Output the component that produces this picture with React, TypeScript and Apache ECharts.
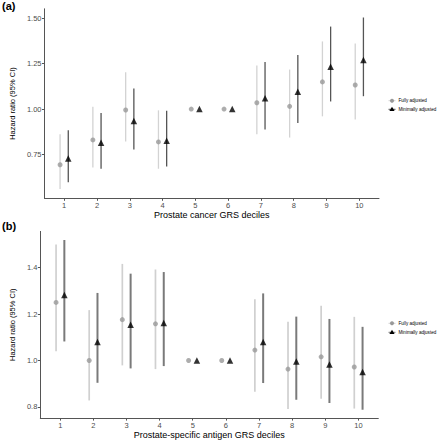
import React, { useEffect, useRef } from "react";
import * as echarts from "echarts";

const deciles = [1, 2, 3, 4, 5, 6, 7, 8, 9, 10];

// Panel (a): Prostate cancer GRS deciles
const aFullHR = [0.693, 0.830, 0.995, 0.819, 1.0, 1.0, 1.035, 1.015, 1.150, 1.133];
const aFullLo = [0.559, 0.678, 0.821, 0.671, null, null, 0.861, 0.843, 0.960, 0.943];
const aFullHi = [0.861, 1.013, 1.203, 0.993, null, null, 1.241, 1.218, 1.373, 1.362];
const aMinHR = [0.728, 0.814, 0.934, 0.826, 1.0, 1.0, 1.060, 1.095, 1.234, 1.271];
const aMinLo = [0.596, 0.671, 0.777, 0.684, null, null, 0.888, 0.923, 1.042, 1.071];
const aMinHi = [0.883, 0.978, 1.113, 0.991, null, null, 1.260, 1.298, 1.455, 1.505];
const aTicks = [0.75, 1.0, 1.25, 1.5];

// Panel (b): Prostate-specific antigen GRS deciles
const bFullHR = [1.250, 1.0, 1.176, 1.158, 1.0, 1.0, 1.045, 0.963, 1.016, 0.972];
const bFullLo = [1.040, 0.828, 0.979, 0.963, null, null, 0.865, 0.791, 0.835, 0.793];
const bFullHi = [1.500, 1.217, 1.416, 1.392, null, null, 1.264, 1.167, 1.236, 1.188];
const bMinHR = [1.282, 1.080, 1.154, 1.162, 1.0, 1.0, 1.080, 0.996, 0.983, 0.951];
const bMinLo = [1.082, 0.904, 0.966, 0.976, null, null, 0.903, 0.831, 0.817, 0.788];
const bMinHi = [1.519, 1.291, 1.374, 1.381, null, null, 1.289, 1.189, 1.179, 1.145];
const bTicks = [0.8, 1.0, 1.2, 1.4];

const seriesNames = ["Fully adjusted", "Minimally adjusted"];
const xTitles = ["Prostate cancer GRS deciles", "Prostate-specific antigen GRS deciles"];
const yTitle = "Hazard ratio (95% CI)";
const panelLabels = ["(a)", "(b)"];

const FONT = "Liberation Sans, Arial, sans-serif";
const DODGE = 0.125;

function errBar(idx: number, color: string, width: number, lo: any[], hi: any[], offset: number) {
  const data = deciles
    .map((d, i) => [d + offset, lo[i], hi[i]])
    .filter((r) => r[1] != null);
  return {
    type: "custom",
    xAxisIndex: idx,
    yAxisIndex: idx,
    data,
    renderItem: (params: any, api: any) => {
      const p1 = api.coord([api.value(0), api.value(1)]);
      const p2 = api.coord([api.value(0), api.value(2)]);
      return {
        type: "line",
        shape: { x1: p1[0], y1: p1[1], x2: p2[0], y2: p2[1] },
        style: { stroke: color, lineWidth: width },
      };
    },
    silent: true,
    z: 1,
  };
}

function points(idx: number, hr: number[], offset: number, symbol: string, size: number, color: string) {
  return {
    type: "scatter",
    xAxisIndex: idx,
    yAxisIndex: idx,
    data: deciles.map((d, i) => [d + offset, hr[i]]),
    symbol,
    symbolSize: size,
    itemStyle: { color },
    z: 3,
  };
}

function xAxis(idx: number, gap: number) {
  return {
    type: "value",
    gridIndex: idx,
    min: 0.4,
    max: 10.6,
    name: xTitles[idx],
    nameLocation: "middle",
    nameGap: gap,
    nameTextStyle: { fontFamily: FONT, fontSize: 9, color: "#000" },
    axisLine: { show: true, lineStyle: { color: "#555", width: 1 } },
    axisTick: { show: true, length: 2.5, customValues: deciles, lineStyle: { color: "#555" } },
    axisLabel: {
      customValues: deciles,
      margin: 3,
      fontFamily: FONT,
      fontSize: 7.5,
      color: "#4d4d4d",
      formatter: (v: number) => String(Math.round(v)),
    },
    splitLine: { show: false },
  };
}

function yAxis(idx: number, min: number, max: number, ticks: number[], dec: number) {
  return {
    type: "value",
    gridIndex: idx,
    min,
    max,
    name: yTitle,
    nameLocation: "middle",
    nameGap: idx === 0 ? 21 : 17,
    nameRotate: 90,
    nameTextStyle: { fontFamily: FONT, fontSize: 7.5, color: "#000" },
    axisLine: { show: true, lineStyle: { color: "#555", width: 1 } },
    axisTick: { show: true, length: 2.5, customValues: ticks, lineStyle: { color: "#555" } },
    axisLabel: {
      customValues: ticks,
      margin: 3,
      fontFamily: FONT,
      fontSize: 7.5,
      color: "#4d4d4d",
      formatter: (v: number) => v.toFixed(dec),
    },
    splitLine: { show: false },
  };
}

function legendGraphic(y1: number, y2: number, lightCol: string, darkCol: string) {
  const x = 392;
  return [
    { type: "line", shape: { x1: x - 3.5, y1, x2: x + 3.5, y2: y1 }, style: { stroke: lightCol, lineWidth: 1 } },
    { type: "circle", shape: { cx: x, cy: y1, r: 2 }, style: { fill: "#999" } },
    { type: "text", x: 398.5, y: y1, style: { text: seriesNames[0], fontFamily: FONT, fontSize: 4.6, fill: "#000", verticalAlign: "middle" } },
    { type: "line", shape: { x1: x - 3.5, y1: y2, x2: x + 3.5, y2: y2 }, style: { stroke: darkCol, lineWidth: 1 } },
    { type: "polygon", shape: { points: [[x, y2 - 2.6], [x - 2.6, y2 + 1.8], [x + 2.6, y2 + 1.8]] }, style: { fill: "#000" } },
    { type: "text", x: 398.5, y: y2, style: { text: seriesNames[1], fontFamily: FONT, fontSize: 4.6, fill: "#000", verticalAlign: "middle" } },
  ];
}

export default function App() {
  const ref = useRef<HTMLDivElement>(null);
  useEffect(() => {
    if (!ref.current) return;
    const chart = echarts.init(ref.current, null, { renderer: "svg" });
    const option: any = {
      animation: false,
      backgroundColor: "#fff",
      grid: [
        { left: 26, top: 8.8, width: 353, height: 189.5 },
        { left: 21.3, top: 231.4, width: 357, height: 189.6 },
      ],
      xAxis: [xAxis(0, 9), xAxis(1, 9)],
      yAxis: [yAxis(0, 0.508, 1.553, aTicks, 2), yAxis(1, 0.752, 1.556, bTicks, 1)],
      series: [
        errBar(0, "#d3d3d3", 1.3, aFullLo, aFullHi, -DODGE),
        errBar(0, "#555555", 1.3, aMinLo, aMinHi, DODGE),
        points(0, aFullHR, -DODGE, "circle", 5, "#999999"),
        points(0, aMinHR, DODGE, "triangle", 6.5, "#000000"),
        errBar(1, "#d0d0d0", 1.7, bFullLo, bFullHi, -DODGE),
        errBar(1, "#7a7a7a", 2, bMinLo, bMinHi, DODGE),
        points(1, bFullHR, -DODGE, "circle", 5, "#999999"),
        points(1, bMinHR, DODGE, "triangle", 6.5, "#000000"),
      ],
      graphic: [
        { type: "text", x: 2, y: 6, style: { text: panelLabels[0], fontFamily: FONT, fontSize: 11, fontWeight: "bold", fill: "#000", verticalAlign: "middle" } },
        { type: "text", x: 2, y: 226, style: { text: panelLabels[1], fontFamily: FONT, fontSize: 11, fontWeight: "bold", fill: "#000", verticalAlign: "middle" } },
        ...legendGraphic(100.7, 109.3, "#d3d3d3", "#555"),
        ...legendGraphic(323.3, 332.3, "#d0d0d0", "#7a7a7a"),
      ],
    };
    chart.setOption(option);
    return () => chart.dispose();
  }, []);
  return <div ref={ref} style={{ width: 437, height: 440, position: "absolute", left: 0, top: 0 }} />;
}
